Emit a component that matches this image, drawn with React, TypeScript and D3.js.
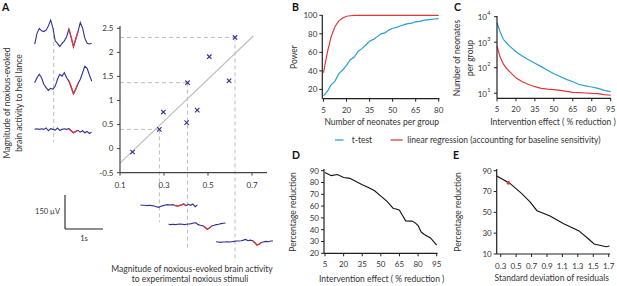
import React from 'react';
import * as d3 from 'd3';

const FONT = 'Lato, "Open Sans", sans-serif';
const BLUE = '#2a9fd8';
const RED = '#e2363c';
const NAVY = '#2e3192';
const GRAY = '#bdbdbd';
const AX = '#231f20';
const TXT = '#333';

// ---------- Panel A ----------
const scatterX = [0.157, 0.279, 0.297, 0.403, 0.407, 0.451, 0.506, 0.596, 0.623];
const scatterY = [-0.07, 0.4, 0.76, 0.54, 1.37, 0.8, 1.91, 1.41, 2.31];
const highlighted = [8, 4, 1];
const fitX = [0.1, 0.706];
const fitY = [-0.3, 2.34];
const aXTicks = [0.1, 0.3, 0.5, 0.7];
const aYTicks = [-0.5, 0, 0.5, 1, 1.5, 2, 2.5];

// EEG traces (µV), sampled over 1.5 s, stimulus at 0.5 s
const leftTraces = [
  [-29, 18, 40, 29, 26, 32, 51, 76, 41, -15, -26, -40, -26, -15, 3, 37, 0, -41, -7, 26, 66, 41, -3, -26, -29, -26],
  [0, 22, 37, 22, -7, -22, -34, -25, -29, -15, 15, 37, 29, 44, 22, 7, -19, -49, -29, -4, 15, 44, 73, 63, 34, 7],
  [0, 3, 0, 3, 0, 6, -6, 3, 0, -3, 6, -4, 0, 3, 0, 3, -6, -15, -9, -4, -12, -6, -15, -9, -18, -12],
];
const leftRed = [[15, 19], [15, 19], [15, 19]];
const bottomTraces = [
  [1.5, 0, 0, -1.5, 0, -1.5, -3, -6, -9, -4, -1.5, 1.5, 3, 1.5, 3, 0, -3, -1.5, 1.5, 6, -1.5, 4.4, 0, 6, -6, 1.5],
  [0, -1.5, 0, -1.5, 0, 1.5, 0, -1.5, 0, 1.5, 3, 6, 7, -1.5, -4.4, -6, -13, -22, -16, -7, -4.4, -1.5, 0, 3, 4.4, 6],
  [0, -1.5, -3, -1.5, -1.5, 0, -1.5, 0, 1.5, 3, 3, 4.4, 7, 10, 4.4, 7, 4.4, -4.4, -15, -10, -3, 0, 1.5, 0, 3, 3],
];
const bottomRed = [[15, 20], [15, 19], [16, 20]];
const traceDuration = 1.5;
const stimTime = 0.5;

// ---------- Panel B ----------
const powerN = [5, 7.5, 10, 12.5, 15, 17.5, 20, 22.5, 25, 27.5, 30, 32.5, 35, 37.5, 40, 42.5, 45, 47.5, 50, 52.5, 55, 57.5, 60, 62.5, 65, 67.5, 70, 72.5, 75, 77.5, 80];
const powerTtest = [13, 18, 25, 29, 37, 41, 46, 52, 55, 61, 64, 68, 72, 74, 77, 80, 81, 84, 86, 87, 88.5, 90, 91, 91.5, 93, 93.5, 94.5, 95, 95.5, 96, 96.5];
const powerLinReg = [38, 60, 77, 88, 94, 97, 99, 99.5, 100, 100, 100, 100, 100, 100, 100, 100, 100, 100, 100, 100, 100, 100, 100, 100, 100, 100, 100, 100, 100, 100, 100];
const bXTicks = [5, 20, 35, 50, 65, 80];
const bYTicks = [20, 40, 60, 80, 100];

// ---------- Panel C ----------
const cEffect = [5, 7.5, 10, 12.5, 15, 20, 25, 30, 35, 40, 45, 50, 55, 60, 65, 70, 75, 80, 85, 90, 95];
const cTtest = [5800, 2500, 1300, 950, 700, 420, 290, 205, 150, 110, 80, 58, 45, 35, 28, 22, 19.5, 17.5, 15.5, 13, 11.5];
const cLinReg = [700, 260, 140, 95, 70, 40, 28, 22, 18, 15.5, 14.5, 13.8, 12.8, 11.8, 10.8, 10.5, 10.2, 9.8, 9.6, 8.8, 8.3];
const cXTicks = [5, 20, 35, 50, 65, 80, 95];
const cYExp = [1, 2, 3, 4];

// ---------- Panel D ----------
const dEffect = [5, 10, 15, 20, 25, 30, 35, 40, 45, 50, 55, 60, 62.5, 65, 67.5, 70, 75, 77.5, 80, 82.5, 85, 90, 95];
const dReduction = [88.5, 85.8, 86.8, 84.3, 83.5, 80.8, 78, 75.8, 73, 68.5, 64, 58, 57.5, 56.5, 52, 47.5, 47.3, 46, 43.5, 38, 36, 33, 27];
const dXTicks = [5, 20, 35, 50, 65, 80, 95];
const dYTicks = [20, 30, 40, 50, 60, 70, 80, 90];

// ---------- Panel E ----------
const eSD = [0.25, 0.42, 0.57, 0.68, 0.77, 0.94, 1.11, 1.31, 1.44, 1.51, 1.67, 1.71];
const eReduction = [85, 77.8, 68.2, 60, 51.6, 46.5, 39.4, 32.4, 24.4, 19.6, 17, 17.7];
const eMarkX = 0.4;
const eMarkY = 78.3;
const eXTicks = [0.3, 0.5, 0.7, 0.9, 1.1, 1.3, 1.5, 1.7];
const eYTicks = [10, 30, 50, 70, 90];

const legendLabels = ['t-test', 'linear regression (accounting for baseline sensitivity)'];

type Sc = (v: number) => number;

function AxisLeft({ scale, ticks, x, y0, y1, fmt, size = 8, gap = 5, color = AX }: any) {
  return (
    <g>
      <line x1={x} x2={x} y1={y0} y2={y1} stroke={color} strokeWidth={1.2} />
      {ticks.map((t: number, i: number) => (
        <g key={i}>
          <line x1={x - 3} x2={x} y1={scale(t)} y2={scale(t)} stroke={color} strokeWidth={1} />
          <text x={x - gap} y={scale(t)} dy="0.35em" textAnchor="end" fontSize={size} fill={TXT} fontFamily={FONT}>
            {fmt ? fmt(t) : String(t)}
          </text>
        </g>
      ))}
    </g>
  );
}

function AxisBottom({ scale, ticks, y, x0, x1, fmt, size = 8, off = 14, color = AX }: any) {
  return (
    <g>
      <line x1={x0} x2={x1} y1={y} y2={y} stroke={color} strokeWidth={1.2} />
      {ticks.map((t: number, i: number) => (
        <g key={i}>
          <line x1={scale(t)} x2={scale(t)} y1={y} y2={y + 3} stroke={color} strokeWidth={1} />
          <text x={scale(t)} y={y + off} textAnchor="middle" fontSize={size} fill={TXT} fontFamily={FONT}>
            {fmt ? fmt(t) : String(t)}
          </text>
        </g>
      ))}
    </g>
  );
}

function VText({ x, y, children, size = 8.5 }: any) {
  return (
    <text transform={`translate(${x},${y}) rotate(-90)`} textAnchor="middle" fontSize={size} fill={TXT} fontFamily={FONT}>
      {children}
    </text>
  );
}

function Label({ x, y, children }: any) {
  return (
    <text x={x} y={y} fontSize={10.5} fontWeight="bold" fill="#111" fontFamily={FONT}>
      {children}
    </text>
  );
}

function Trace({ data, red, x0, y0, tScale, vScale }: any) {
  const n = data.length;
  const pts: [number, number][] = data.map((v: number, i: number) => [
    x0 + tScale((i / (n - 1)) * traceDuration),
    y0 - vScale(v),
  ]);
  const line = d3.line();
  return (
    <g>
      <path d={line(pts) || ''} fill="none" stroke={NAVY} strokeWidth={1.1} />
      <path d={line(pts.slice(red[0], red[1] + 1)) || ''} fill="none" stroke={RED} strokeWidth={1.3} />
    </g>
  );
}

export default function App() {
  // Panel A scales
  const ax = d3.scaleLinear().domain([0.1, 0.7]).range([120, 252]);
  const ay = d3.scaleLinear().domain([-0.5, 2.5]).range([172.7, 28.3]);
  const tScale = d3.scaleLinear().domain([0, 1]).range([0, 38]);
  const vScale = d3.scaleLinear().domain([0, 150]).range([0, 34]);

  // B
  const bx = d3.scaleLinear().domain([5, 80]).range([323.5, 438.7]);
  const by = d3.scaleLinear().domain([10, 100]).range([98.7, 15.3]);
  // C
  const cx = d3.scaleLinear().domain([5, 95]).range([497, 610.7]);
  const cy = d3.scaleLog().domain([Math.pow(10, 0.8), 10000]).range([98.3, 16.7]);
  // D
  const dx = d3.scaleLinear().domain([5, 95]).range([325, 436.7]);
  const dy = d3.scaleLinear().domain([20, 90]).range([253.3, 170.7]);
  // E
  const ex = d3.scaleLinear().domain([0.3, 1.7]).range([500.7, 608.7]);
  const ey = d3.scaleLinear().domain([10, 90]).range([254, 170.7]);

  const lineB = (ys: number[]) => d3.line<number>().x((_, i) => bx(powerN[i])).y((v) => by(v))(ys) || '';
  const lineC = (ys: number[]) => d3.line<number>().x((_, i) => cx(cEffect[i])).y((v) => cy(v))(ys) || '';
  const lineD = d3.line<number>().x((_, i) => dx(dEffect[i])).y((v) => dy(v))(dReduction) || '';
  const lineE = d3.line<number>().x((_, i) => ex(eSD[i])).y((v) => ey(v))(eReduction) || '';

  const leftBase = highlighted.map((i) => ay(scatterY[i]));
  const bottomBase = [205.3, 224.3, 241.7];
  const bottomEnd = [222, 250, 262];
  const leftStart = 34.7;
  const stimX = leftStart + tScale(stimTime);

  const fmt1 = (v: number) => (v === 0 ? '0' : String(v));

  return (
    <svg width={617} height={286} style={{ position: 'absolute', left: 0, top: 0, background: '#fff' }}>
      <rect width={617} height={286} fill="#fff" />
      {/* ===== Panel A ===== */}
      <Label x={2} y={11}>A</Label>
      <VText x={10.3} y={103}>Magnitude of noxious-evoked</VText>
      <VText x={22.3} y={103}>brain activity to heel lance</VText>

      {/* left traces */}
      <line x1={stimX} x2={stimX} y1={28} y2={142} stroke={GRAY} strokeWidth={1} strokeDasharray="4,3" />
      {leftTraces.map((tr, k) => (
        <Trace key={k} data={tr} red={leftRed[k]} x0={leftStart} y0={leftBase[k]} tScale={tScale} vScale={vScale} />
      ))}

      {/* dashed guides */}
      {highlighted.map((i, k) => (
        <g key={k}>
          <line x1={ax(0.1)} x2={ax(scatterX[i])} y1={ay(scatterY[i])} y2={ay(scatterY[i])} stroke={GRAY} strokeWidth={1} strokeDasharray="4,3" />
          <line x1={ax(scatterX[i])} x2={ax(scatterX[i])} y1={ay(scatterY[i])} y2={bottomEnd[2 - k]} stroke={GRAY} strokeWidth={1} strokeDasharray="4,3" />
        </g>
      ))}

      {/* fit line */}
      <line x1={ax(fitX[0])} y1={ay(fitY[0])} x2={ax(fitX[1])} y2={ay(fitY[1])} stroke={GRAY} strokeWidth={1.1} />

      {/* axes */}
      <AxisLeft scale={ay} ticks={aYTicks} x={120} y0={172.7} y1={26} gap={6.5} fmt={fmt1} color="#444" />
      <AxisBottom scale={ax} ticks={aXTicks} y={172.7} x0={120} x1={267} off={15} color="#444" />

      {/* points */}
      {scatterX.map((xv, i) => {
        const px = ax(xv);
        const py = ay(scatterY[i]);
        const s = 2.2;
        return (
          <g key={i} stroke={NAVY} strokeWidth={1.1}>
            <line x1={px - s} y1={py - s} x2={px + s} y2={py + s} />
            <line x1={px - s} y1={py + s} x2={px + s} y2={py - s} />
          </g>
        );
      })}

      {/* bottom traces */}
      {highlighted
        .slice()
        .reverse()
        .map((i, k) => (
          <Trace
            key={k}
            data={bottomTraces[k]}
            red={bottomRed[k]}
            x0={ax(scatterX[i]) - tScale(stimTime)}
            y0={bottomBase[k]}
            tScale={tScale}
            vScale={vScale}
          />
        ))}

      {/* scale bar */}
      <line x1={65} x2={65} y1={229 - vScale(150)} y2={229} stroke={AX} strokeWidth={1.1} />
      <line x1={65} x2={65 + tScale(1)} y1={229} y2={229} stroke={AX} strokeWidth={1.1} />
      <text x={60} y={214} textAnchor="end" fontSize={7.5} fill={TXT} fontFamily={FONT}>150 µV</text>
      <text x={84} y={241} textAnchor="middle" fontSize={7.5} fill={TXT} fontFamily={FONT}>1s</text>

      <text x={192} y={271.5} textAnchor="middle" fontSize={8.5} fill={TXT} fontFamily={FONT}>Magnitude of noxious-evoked brain activity</text>
      <text x={190} y={281.5} textAnchor="middle" fontSize={8.5} fill={TXT} fontFamily={FONT}>to experimental noxious stimuli</text>

      {/* ===== Panel B ===== */}
      <Label x={292} y={11}>B</Label>
      <VText x={297} y={57}>Power</VText>
      <path d={lineB(powerTtest)} fill="none" stroke={BLUE} strokeWidth={1.2} />
      <path d={lineB(powerLinReg)} fill="none" stroke={RED} strokeWidth={1.2} />
      <AxisLeft scale={by} ticks={bYTicks} x={322.3} y0={98.7} y1={15} />
      <AxisBottom scale={bx} ticks={bXTicks} y={98.7} x0={322.3} x1={439.5} />
      <text x={381.7} y={125} textAnchor="middle" fontSize={8.5} fill={TXT} fontFamily={FONT}>Number of neonates per group</text>

      {/* ===== Panel C ===== */}
      <Label x={454} y={11}>C</Label>
      <VText x={460} y={58}>Number of neonates</VText>
      <VText x={473} y={58}>per group</VText>
      <path d={lineC(cTtest)} fill="none" stroke={BLUE} strokeWidth={1.2} />
      <path d={lineC(cLinReg)} fill="none" stroke={RED} strokeWidth={1.2} />
      <g>
        <line x1={497} x2={497} y1={98.3} y2={16} stroke={AX} strokeWidth={1.2} />
        {cYExp.map((e) => (
          <g key={e}>
            <line x1={494} x2={497} y1={cy(Math.pow(10, e))} y2={cy(Math.pow(10, e))} stroke={AX} strokeWidth={1} />
            <text x={487} y={cy(Math.pow(10, e))} dy="0.45em" textAnchor="end" fontSize={8} fill={TXT} fontFamily={FONT}>10</text>
            <text x={487.3} y={cy(Math.pow(10, e)) - 1.5} fontSize={5.5} fill={TXT} fontFamily={FONT}>{e}</text>
          </g>
        ))}
      </g>
      <AxisBottom scale={cx} ticks={cXTicks} y={98.3} x0={497} x1={611} />
      <text x={553} y={125} textAnchor="middle" fontSize={8.5} fill={TXT} fontFamily={FONT}>Intervention effect ( % reduction )</text>

      {/* legend */}
      <line x1={335} x2={343.5} y1={140} y2={140} stroke={BLUE} strokeWidth={1.3} />
      <text x={351.7} y={142.8} fontSize={8.5} fill={TXT} fontFamily={FONT}>{legendLabels[0]}</text>
      <line x1={390.7} x2={402.7} y1={140} y2={140} stroke={RED} strokeWidth={1.3} />
      <text x={407.3} y={142.8} fontSize={8.5} fill={TXT} fontFamily={FONT}>{legendLabels[1]}</text>

      {/* ===== Panel D ===== */}
      <Label x={292} y={159}>D</Label>
      <VText x={296} y={212}>Percentage reduction</VText>
      <path d={lineD} fill="none" stroke="#111" strokeWidth={1.1} />
      <AxisLeft scale={dy} ticks={dYTicks} x={324} y0={253.3} y1={169} />
      <AxisBottom scale={dx} ticks={dXTicks} y={253.3} x0={324} x1={437.5} />
      <text x={381.7} y={282} textAnchor="middle" fontSize={8.5} fill={TXT} fontFamily={FONT}>Intervention effect ( % reduction )</text>

      {/* ===== Panel E ===== */}
      <Label x={453} y={159}>E</Label>
      <VText x={461} y={212}>Percentage reduction</VText>
      <path d={lineE} fill="none" stroke="#111" strokeWidth={1.1} />
      <circle cx={ex(eMarkX)} cy={ey(eMarkY)} r={1.8} fill={RED} />
      <AxisLeft scale={ey} ticks={eYTicks} x={496.7} y0={254} y1={169} />
      <AxisBottom scale={ex} ticks={eXTicks} y={254} x0={496.7} x1={610} off={15} fmt={(v: number) => v.toFixed(1)} />
      <text x={551.7} y={281} textAnchor="middle" fontSize={8.5} fill={TXT} fontFamily={FONT}>Standard deviation of residuals</text>
    </svg>
  );
}
